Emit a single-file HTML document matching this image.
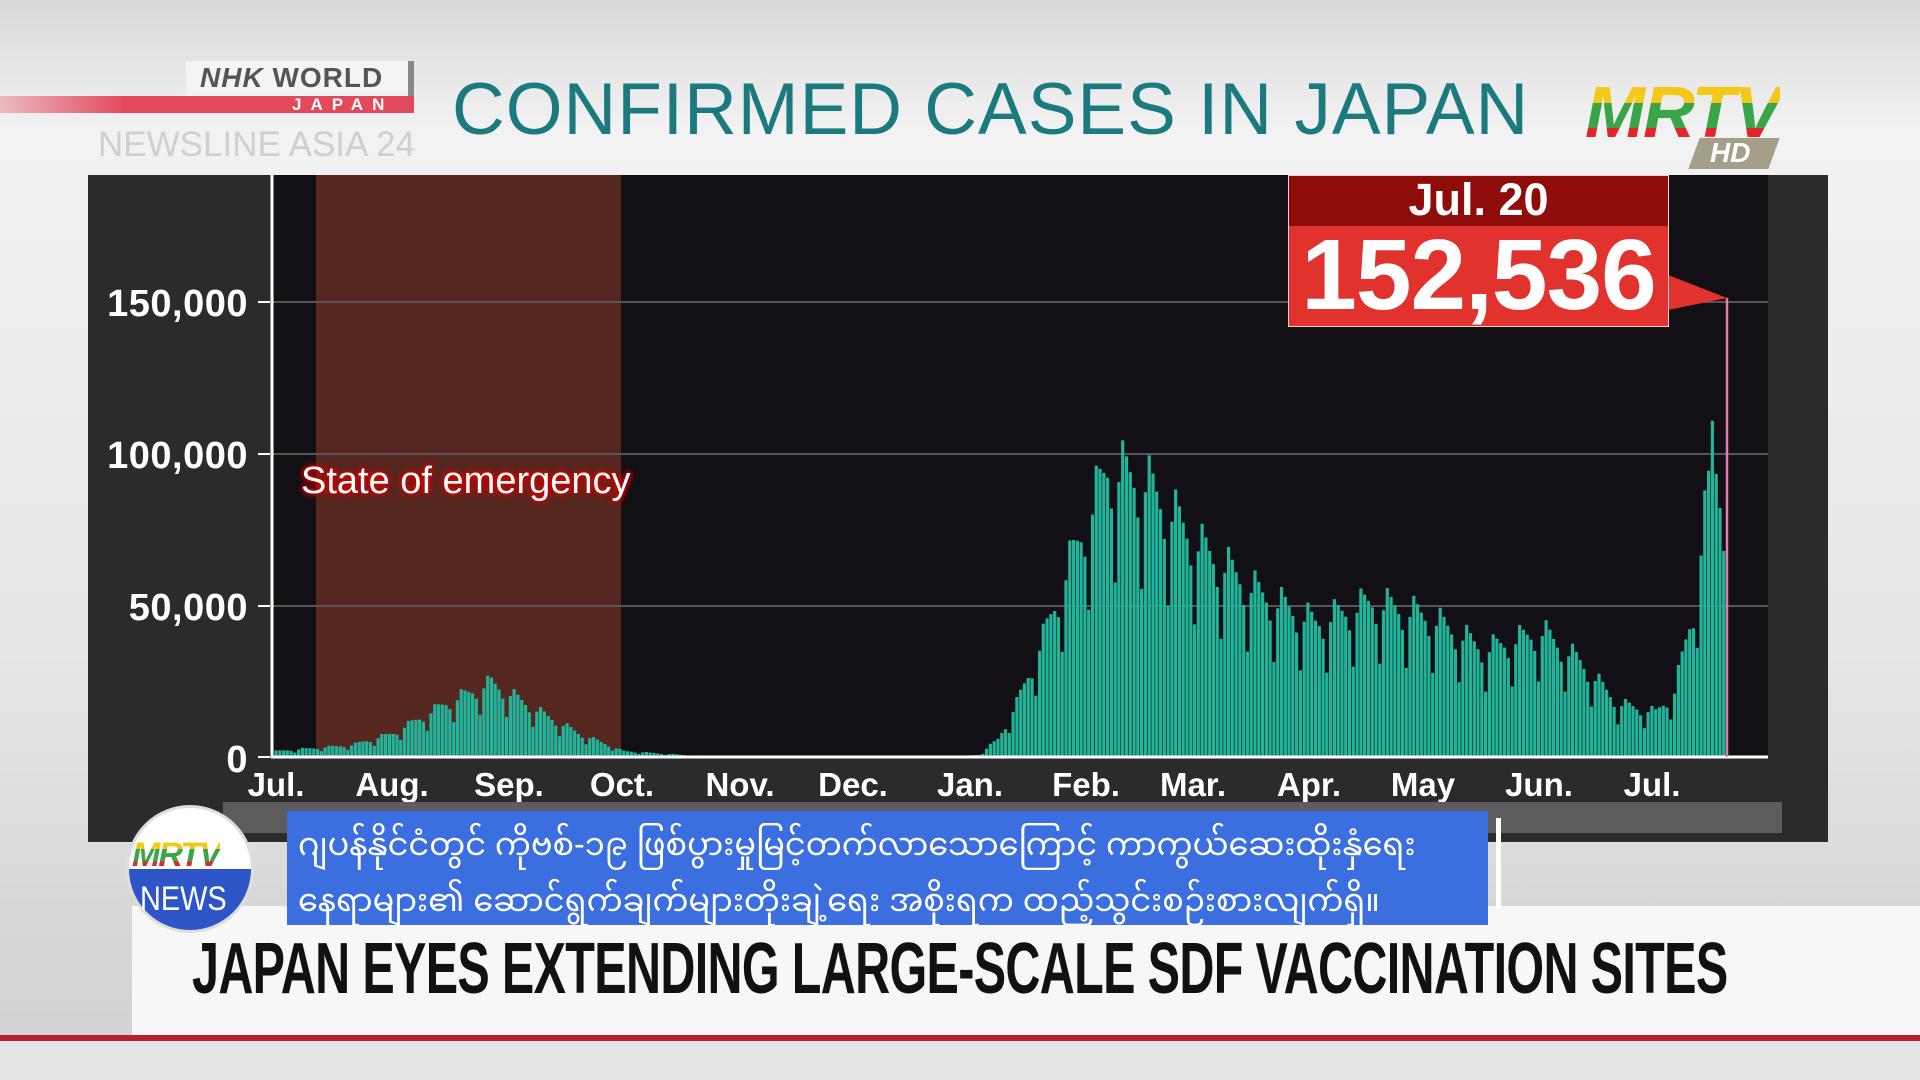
<!DOCTYPE html>
<html><head><meta charset="utf-8"><style>
body{margin:0;width:1920px;height:1080px;overflow:hidden;position:relative;font-family:"Liberation Sans",sans-serif;
background:linear-gradient(180deg,#d9d9da 0%,#f2f2f2 12%,#e6e6e6 60%,#cfcfcf 100%);}
.abs{position:absolute}
</style></head><body>
<!-- NHK logo -->
<div class="abs" style="left:0;top:96px;width:414px;height:17px;background:linear-gradient(90deg,rgba(230,70,90,0.3),#e24a5c 30%,#e24a5c)"></div>
<div class="abs" style="left:186px;top:61px;width:222px;height:35px;background:#f4f4f4"></div>
<div class="abs" style="left:408px;top:61px;width:6px;height:35px;background:#888"></div>
<div class="abs" style="left:200px;top:62px;font-size:28px;font-weight:bold;color:#555;letter-spacing:1px"><i>NHK</i> <span style="font-weight:bold">WORLD</span></div>
<div class="abs" style="left:292px;top:95px;font-size:17px;font-weight:bold;color:#fff;letter-spacing:9px">JAPAN</div>
<div class="abs" style="left:98px;top:125px;font-size:35px;color:#cfcfcf;white-space:nowrap">NEWSLINE ASIA 24</div>
<!-- Title -->
<div class="abs" style="left:452px;top:68px;font-size:73px;color:#1a7a7e;letter-spacing:1px;white-space:nowrap">CONFIRMED CASES IN JAPAN</div>
<!-- MRTV HD -->
<div class="abs" style="left:1585px;top:72px;font-size:72px;font-weight:bold;font-style:italic;letter-spacing:-2px;background:linear-gradient(180deg,#f4c81a 0 38%,#3aa548 38% 68%,#e2262b 68%);-webkit-background-clip:text;color:transparent">MRTV</div>
<div class="abs" style="left:1694px;top:138px;width:80px;height:31px;background:#a49f88;transform:skewX(-20deg)"></div>
<div class="abs" style="left:1710px;top:137px;font-size:28px;font-weight:bold;font-style:italic;color:#fff">HD</div>
<!-- chart panel -->
<div class="abs" style="left:88px;top:175px;width:1740px;height:667px;background:#2b2a2d"></div>
<div class="abs" style="left:272px;top:175px;width:1496px;height:582px;background:#121014"></div>
<div class="abs" style="left:316px;top:175px;width:305px;height:582px;background:#55271f"></div>
<svg class="abs" style="left:0;top:0" width="1920" height="1080" id="svg">
<g stroke="#555" stroke-width="2"><line x1="272" y1="302" x2="1768" y2="302"/><line x1="272" y1="454" x2="1768" y2="454"/><line x1="272" y1="606" x2="1768" y2="606"/></g>
<g id="bars" fill="#22b39b"></g>
<line x1="272" y1="175" x2="272" y2="758" stroke="#fff" stroke-width="3"/>
<line x1="271" y1="757" x2="1768" y2="757" stroke="#fff" stroke-width="3"/>
<g stroke="#fff" stroke-width="2"><line x1="258" y1="302" x2="270" y2="302"/><line x1="258" y1="454" x2="270" y2="454"/><line x1="258" y1="606" x2="270" y2="606"/><line x1="258" y1="757" x2="270" y2="757"/></g>
<line x1="1727" y1="298" x2="1727" y2="757" stroke="#e080b0" stroke-width="2.5"/>
<polygon points="1668,275 1727,298 1668,310" fill="#e2322e"/>
<g fill="#fff" font-family="Liberation Sans" font-weight="bold" font-size="38" text-anchor="end" letter-spacing="0.5">
<text x="248" y="316">150,000</text><text x="248" y="468">100,000</text><text x="248" y="620">50,000</text><text x="248" y="772">0</text></g>
<g fill="#fff" font-family="Liberation Sans" font-weight="bold" font-size="33" text-anchor="middle" id="months"></g>
</svg>
<div class="abs" style="left:301px;top:460px;font-size:38px;color:#fff;text-shadow:0 0 4px #c00,0 0 6px #c00,0 0 8px #e00;white-space:nowrap">State of emergency</div>
<!-- callout -->
<div class="abs" style="left:1288px;top:175px;width:381px;height:152px;background:#e2322e;border:1px solid #f0d0d0;box-sizing:border-box"></div>
<div class="abs" style="left:1289px;top:176px;width:379px;height:50px;background:#8e0d0a"></div>
<div class="abs" style="left:1288px;top:174px;width:381px;text-align:center;font-size:45px;font-weight:bold;color:#fff">Jul. 20</div>
<div class="abs" style="left:1278px;top:218px;width:401px;text-align:center;font-size:100px;font-weight:bold;color:#fff;letter-spacing:-1px">152,536</div>
<!-- scrollbar -->
<div class="abs" style="left:223px;top:802px;width:1559px;height:31px;background:#5e5c5e"></div>
<!-- lower band -->
<div class="abs" style="left:132px;top:906px;width:1788px;height:129px;background:#f7f7f7"></div>
<div class="abs" style="left:0;top:1035px;width:1920px;height:6px;background:#b3202e"></div>
<div class="abs" style="left:0;top:1041px;width:1920px;height:39px;background:#e4e4e4"></div>
<div class="abs" style="left:192px;top:928px;font-size:72px;font-weight:bold;color:#111;white-space:nowrap;transform:scaleX(0.674);transform-origin:left;letter-spacing:-1px">JAPAN EYES EXTENDING LARGE-SCALE SDF VACCINATION SITES</div>
<!-- subtitle box -->
<div class="abs" style="left:287px;top:811px;width:1201px;height:114px;background:#3b6fe0"></div>
<div class="abs" style="left:1496px;top:818px;width:5px;height:90px;background:#fff"></div>
<div class="abs" style="left:298px;top:816px;width:1190px;font-size:32px;line-height:56px;color:#fff;font-family:'Liberation Sans','Noto Sans Myanmar','Padauk',sans-serif;white-space:nowrap;overflow:hidden">ဂျပန်နိုင်ငံတွင် ကိုဗစ်-၁၉ ဖြစ်ပွားမှုမြင့်တက်လာသောကြောင့် ကာကွယ်ဆေးထိုးနှံရေး<br>နေရာများ၏ ဆောင်ရွက်ချက်များတိုးချဲ့ရေး အစိုးရက ထည့်သွင်းစဉ်းစားလျက်ရှိ။</div>
<!-- MRTV news circle -->
<div class="abs" style="left:126px;top:805px;width:128px;height:128px;border-radius:50%;background:linear-gradient(180deg,#fff 0 50%,#2d55c8 50%);border:3px solid #ddd;box-sizing:border-box"></div>
<div class="abs" style="left:132px;top:836px;font-size:34px;font-weight:bold;font-style:italic;letter-spacing:-2px;background:linear-gradient(180deg,#f4c81a 0 33%,#3aa548 33% 66%,#e2262b 66%);-webkit-background-clip:text;color:transparent">MRTV</div>
<div class="abs" style="left:140px;top:880px;font-size:34px;color:#fff;transform:scaleX(0.85);transform-origin:left">NEWS</div>
<script>
var pts=[[0,2000],[20,4000],[31,8000],[45,18000],[57,25000],[70,15000],[80,8000],[92,2000],[110,500],[130,200],[180,200],[186,800],[191,6000],[196,18000],[203,40000],[210,65000],[220,97000],[230,92000],[245,70000],[260,55000],[275,45000],[290,52000],[305,47000],[320,36000],[335,42000],[345,32000],[355,18000],[365,15000],[370,22000],[375,50000],[380,100000],[383,95000]];
function v(d){for(var i=0;i<pts.length-1;i++){if(d>=pts[i][0]&&d<=pts[i+1][0]){var t=(d-pts[i][0])/(pts[i+1][0]-pts[i][0]);return pts[i][1]+t*(pts[i+1][1]-pts[i][1]);}}return 0;}
var w=[1.1,1.05,1.0,0.95,0.85,0.6,0.95];var s='';
for(var d=0;d<=384;d++){var val=v(d)*w[d%7];if(d==380)val=111000;if(d==383)val=68000;if(d==384)continue;var h=val/50000*151.5;var x=276+d*3.78;
s+='<rect x="'+(x-1.6).toFixed(1)+'" y="'+(757-h).toFixed(1)+'" width="3.2" height="'+h.toFixed(1)+'"/>';}
document.getElementById('bars').innerHTML=s;
var m=[["Jul.",276],["Aug.",392],["Sep.",509],["Oct.",622],["Nov.",740],["Dec.",853],["Jan.",970],["Feb.",1086],["Mar.",1193],["Apr.",1309],["May",1423],["Jun.",1539],["Jul.",1652]];
var t='';m.forEach(function(a){t+='<text x="'+a[1]+'" y="796">'+a[0]+'</text>';});
document.getElementById('months').innerHTML=t;
</script>
</body></html>
